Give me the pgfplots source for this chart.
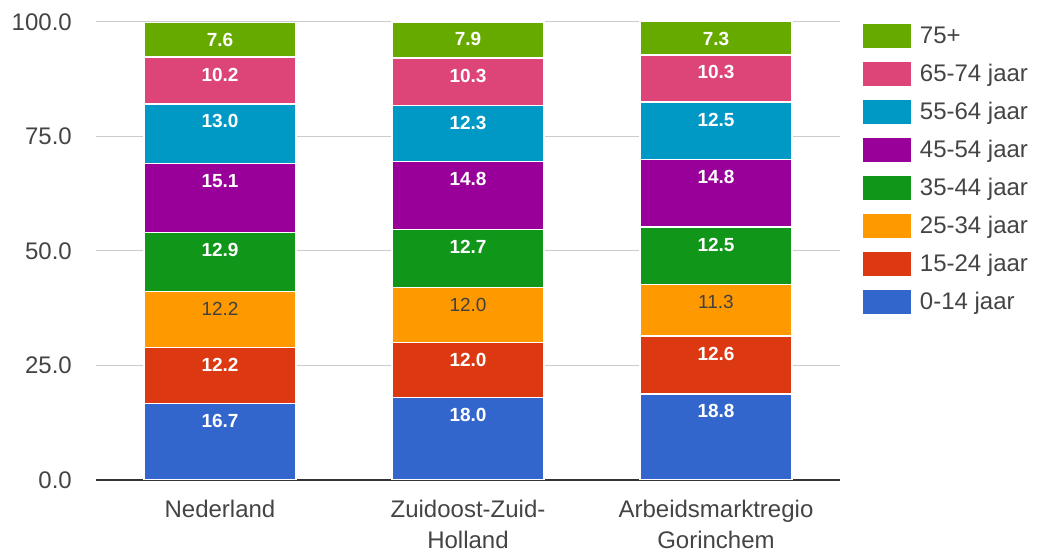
\documentclass[border=0pt]{standalone}
\usepackage{pgfplots}
\pgfplotsset{compat=1.18}
\usepackage{pgfplotstable}
\usepackage{fontspec}
\setmainfont{Liberation Sans}

\definecolor{c0}{HTML}{3366CC}
\definecolor{c1}{HTML}{DC3912}
\definecolor{c2}{HTML}{FF9900}
\definecolor{c3}{HTML}{109618}
\definecolor{c4}{HTML}{990099}
\definecolor{c5}{HTML}{0099C6}
\definecolor{c6}{HTML}{DD4477}
\definecolor{c7}{HTML}{66AA00}
\definecolor{labgray}{HTML}{444444}
\definecolor{gridgray}{HTML}{CCCCCC}

% leeftijdsopbouw in procenten
\pgfplotstableread{
x a b c d e f g h
0 16.7 12.2 12.2 12.9 15.1 13.0 10.2 7.6
1 18.0 12.0 12.0 12.7 14.8 12.3 10.3 7.9
2 18.8 12.6 11.3 12.5 14.8 12.5 10.3 7.3
}\leeftijd

\begin{document}
\begin{tikzpicture}
\begin{axis}[
  name=ax,
  scale only axis,
  width=744bp, height=458.46bp,
  xmin=-0.5, xmax=2.5,
  ymin=0, ymax=100.1,
  ybar stacked,
  bar width=152bp,
  xtick={0,1,2},
  xticklabels={Nederland, Zuidoost-Zuid-\\Holland, Arbeidsmarktregio\\Gorinchem},
  xticklabel style={align=center, font=\fontsize{24bp}{31bp}\selectfont,
    text=labgray, inner sep=0pt, yshift=-20bp},
  ytick={0,25,50,75,100},
  yticklabel style={font=\fontsize{24bp}{28bp}\selectfont, text=labgray,
    inner sep=0pt, xshift=-24bp,
    /pgf/number format/fixed, /pgf/number format/fixed zerofill,
    /pgf/number format/precision=1, /pgf/number format/assume math mode=true},
  major tick length=0pt,
  ymajorgrids,
  grid style={gridgray, line width=1bp},
  axis x line*=bottom,
  axis y line*=left,
  y axis line style={draw=none},
  x axis line style={draw=black!80, line width=1.5bp, -},
  every axis plot/.append style={draw=white, line width=1.5bp},
  visualization depends on=rawy \as \rawy,
  nodes near coords={\pgfmathprintnumber[fixed,fixed zerofill,precision=1,assume math mode=true]{\pgfplotspointmeta}},
  every node near coord/.append style={anchor=center,
    yshift={\rawy*2.29bp-17.5bp},
    text=white, font=\fontsize{19bp}{19bp}\selectfont\bfseries},
  point meta=explicit,
  reverse legend,
  legend image code/.code={\fill[#1, draw=none] (0bp,-12bp) rectangle (48bp,12bp);
    \path (54bp,0bp);},
  legend style={at={(1,1)}, anchor=north west, xshift=20bp, draw=none, fill=none,
    font=\fontsize{24bp}{28bp}\selectfont, text=labgray, row sep=14bp,
    cells={anchor=west}},
]
\addplot[fill=c0] table[x=x, y=a, meta=a] {\leeftijd};
\addlegendentry{0-14 jaar}
\addplot[fill=c1] table[x=x, y=b, meta=b] {\leeftijd};
\addlegendentry{15-24 jaar}
\addplot[fill=c2, every node near coord/.append style={text=black!75,
    font=\fontsize{19bp}{19bp}\selectfont}] table[x=x, y=c, meta=c] {\leeftijd};
\addlegendentry{25-34 jaar}
\addplot[fill=c3] table[x=x, y=d, meta=d] {\leeftijd};
\addlegendentry{35-44 jaar}
\addplot[fill=c4] table[x=x, y=e, meta=e] {\leeftijd};
\addlegendentry{45-54 jaar}
\addplot[fill=c5] table[x=x, y=f, meta=f] {\leeftijd};
\addlegendentry{55-64 jaar}
\addplot[fill=c6] table[x=x, y=g, meta=g] {\leeftijd};
\addlegendentry{65-74 jaar}
\addplot[fill=c7] table[x=x, y=h, meta=h] {\leeftijd};
\addlegendentry{75+}
\end{axis}
\path ([shift={(-96bp,-72bp)}]ax.south west) rectangle ([shift={(198bp,21.5bp)}]ax.north east);
\end{tikzpicture}
\end{document}
